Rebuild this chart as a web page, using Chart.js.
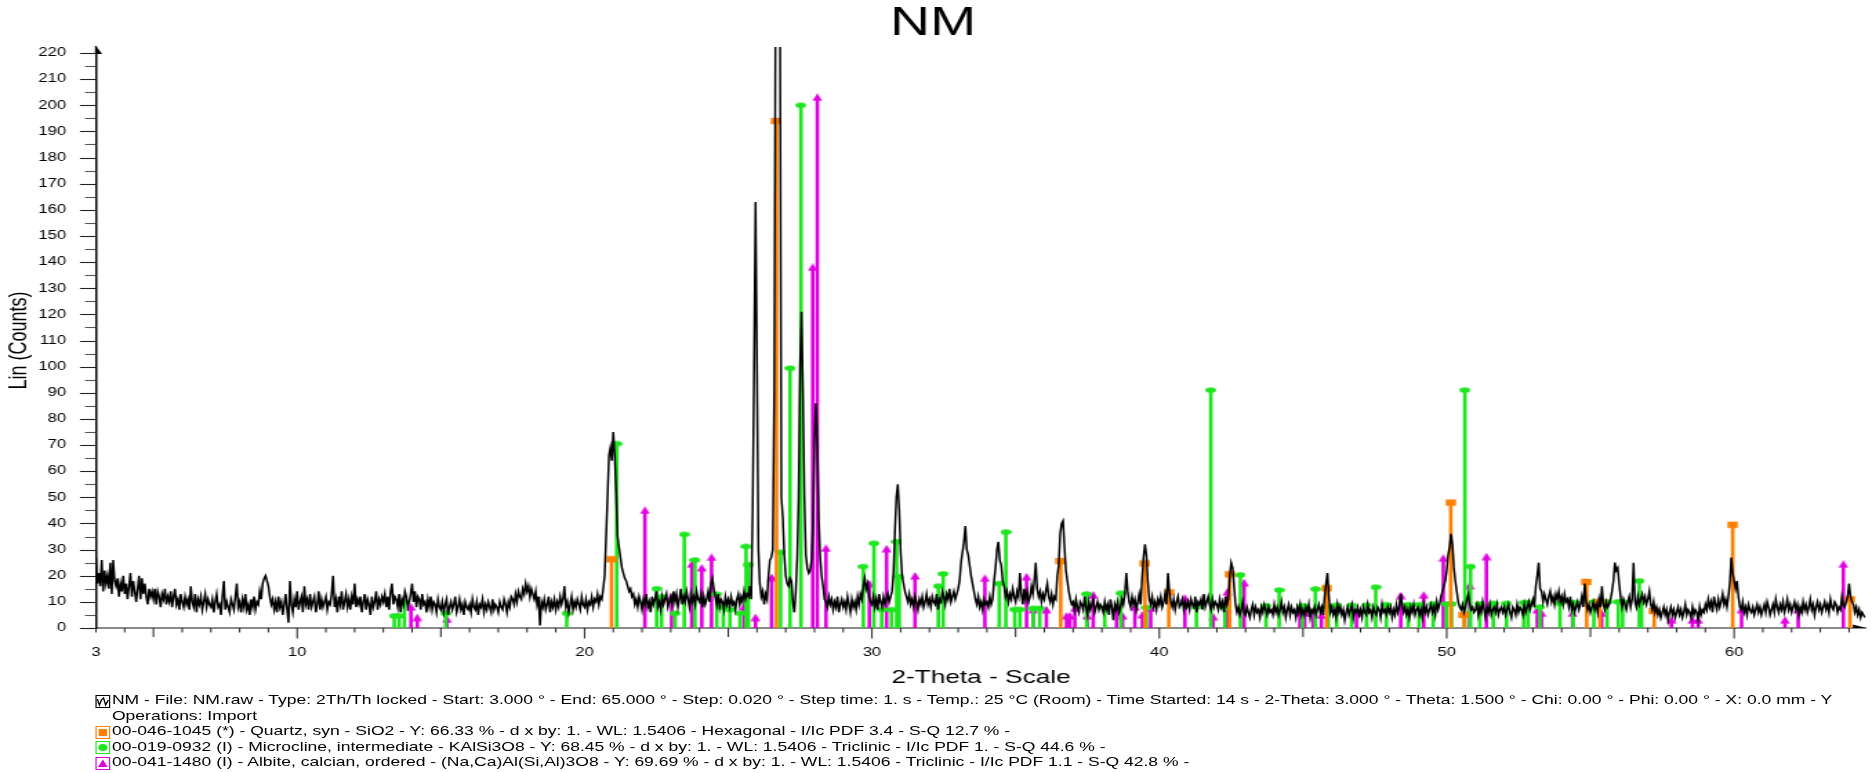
<!DOCTYPE html>
<html>
<head>
<meta charset="utf-8">
<script src="https://cdn.jsdelivr.net/npm/chart.js@4.4.1/dist/chart.umd.min.js"></script>
<style>
  html, body { margin: 0; padding: 0; background: #fff; overflow: hidden; }
  /* the reference is stretched sideways, so the whole drawing is too */
  #wrap { position: absolute; left: 0; top: 0; width: 1356px; height: 773px;
          transform: scaleX(1.3805); transform-origin: 0 0; }
  #chart { position: absolute; left: 0; top: 0; }
  #legend { position: absolute; left: 68.8px; top: 693.3px; color: #000;
            font: 12.7px "Liberation Sans", Arial, sans-serif; }
  .row { height: 15.5px; line-height: 15.5px; white-space: nowrap; display: flex; align-items: center; }
  .ico { width: 11px; height: 13px; flex: none; margin-right: 1.3px; }
  .pad { margin-left: 12.3px; }
</style>
</head>
<body>
<div id="wrap">
  <canvas id="chart" width="1356" height="773"></canvas>
  <div id="legend">
    <div class="row"><svg class="ico" viewBox="0 0 11 13"><rect x="0.5" y="0.5" width="10" height="12" fill="none" stroke="#000"/><polyline points="1.5,4 3,10 4.5,5 6,3 7.5,10 9.5,5" fill="none" stroke="#000" stroke-width="1"/></svg><span>NM - File: NM.raw - Type: 2Th/Th locked - Start: 3.000 ° - End: 65.000 ° - Step: 0.020 ° - Step time: 1. s - Temp.: 25 °C (Room) - Time Started: 14 s - 2-Theta: 3.000 ° - Theta: 1.500 ° - Chi: 0.00 ° - Phi: 0.00 ° - X: 0.0 mm - Y</span></div>
    <div class="row"><span class="pad">Operations: Import</span></div>
    <div class="row"><svg class="ico" viewBox="0 0 11 13"><rect x="0.5" y="0.5" width="10" height="12" fill="none" stroke="#ff8000"/><rect x="2.5" y="3" width="6" height="7" fill="#ff8000"/></svg><span>00-046-1045 (*) - Quartz, syn - SiO2 - Y: 66.33 % - d x by: 1. - WL: 1.5406 - Hexagonal - I/Ic PDF 3.4 - S-Q 12.7 % -</span></div>
    <div class="row"><svg class="ico" viewBox="0 0 11 13"><rect x="0.5" y="0.5" width="10" height="12" fill="none" stroke="#1ee61e"/><ellipse cx="5.5" cy="6.5" rx="3.3" ry="3.5" fill="#1ee61e"/></svg><span>00-019-0932 (I) - Microcline, intermediate - KAlSi3O8 - Y: 68.45 % - d x by: 1. - WL: 1.5406 - Triclinic - I/Ic PDF 1. - S-Q 44.6 % -</span></div>
    <div class="row"><svg class="ico" viewBox="0 0 11 13"><rect x="0.5" y="0.5" width="10" height="12" fill="none" stroke="#e100e1"/><polygon points="5.5,2.5 9,10 2,10" fill="#e100e1"/></svg><span>00-041-1480 (I) - Albite, calcian, ordered - (Na,Ca)Al(Si,Al)3O8 - Y: 69.69 % - d x by: 1. - WL: 1.5406 - Triclinic - I/Ic PDF 1.1 - S-Q 42.8 % -</span></div>
  </div>
</div>
<script>
// ---------------- Daten ----------------
// Messung: 2-Theta ab 3°, Schrittweite 0.05°, Werte abgelesen (je Zeile ein Grad)
const scanStart = 3;
const scanStep = 0.05;
const counts = [
  27,17,21,16,26,14,22,17,20,15,25,13,26,18,16,19,12,17,14,20,
  13,17,11,16,21,12,18,14,10,15,20,11,19,13,17,12,9,15,12,14,
  11,15,9,14,12,8,13,11,15,9,12,10,14,8,12,15,9,11,7,13,
  10,8,12,9,11,7,16,10,8,13,6,11,9,12,7,10,13,8,11,9,
  8,11,6,10,13,8,9,5,12,18,7,10,8,6,11,9,7,12,17,8,
  10,6,11,8,13,7,9,5,11,8,12,7,10,9,14,11,17,19,20,18,
  16,12,9,11,7,10,6,12,8,10,5,9,13,7,2,18,9,6,11,8,
  14,7,10,12,6,16,9,11,7,13,8,10,12,6,9,14,7,11,8,10,
  12,7,10,9,13,20,8,11,6,12,9,14,7,10,13,8,11,7,12,9,
  17,8,11,9,12,6,10,13,7,11,9,5,12,8,10,14,7,11,9,12,
  10,13,8,12,7,14,17,9,12,11,8,13,6,11,9,14,12,8,10,13,
  17,10,14,8,12,11,7,13,9,10,6,11,8,12,7,10,9,6,11,8,
  7,10,6,9,11,5,8,10,7,9,12,6,8,11,7,9,5,10,8,7,
  9,6,11,8,7,10,5,9,8,11,6,9,7,10,8,6,11,7,9,8,
  6,10,8,7,11,9,6,10,8,12,11,9,13,10,14,12,11,15,13,17,
  14,16,12,15,13,11,14,9,12,1,10,8,11,7,9,12,6,10,8,11,
  7,10,8,12,9,11,16,8,10,6,9,12,7,10,8,11,9,7,12,9,
  8,11,7,10,9,12,8,11,10,13,9,12,11,15,20,35,50,66,69,64,
  75,66,52,35,31,27,23,21,19,18,16,14,15,12,13,9,11,8,12,10,
  7,11,9,13,8,10,6,12,9,11,14,8,10,7,12,9,11,13,8,10,
  12,9,14,10,13,8,11,15,9,12,10,14,11,8,13,10,12,9,14,11,
  10,13,8,12,9,11,14,10,17,19,15,12,9,13,8,11,10,7,12,9,
  11,8,12,9,10,7,11,13,9,12,10,14,11,13,12,16,11,45,100,163,
  100,30,17,12,14,9,13,11,20,26,27,30,90,250,420,360,240,50,42,28,
  20,17,16,19,18,10,6,14,27,50,100,121,90,50,28,23,21,22,26,40,
  71,86,71,42,27,20,16,11,10,8,12,9,11,7,10,8,12,6,9,11,
  8,10,7,12,9,6,11,8,10,7,12,9,13,11,16,19,15,17,12,10,
  9,12,8,11,7,13,10,8,12,9,11,13,10,12,14,21,37,50,55,45,
  29,20,17,14,12,10,13,9,11,8,12,10,7,11,9,12,8,10,13,9,
  11,8,12,10,9,13,7,11,10,14,12,9,13,11,15,10,12,14,11,13,
  15,18,25,29,33,39,30,28,24,20,17,14,11,9,12,8,10,7,11,9,
  10,8,12,9,11,18,23,30,33,26,24,18,16,12,14,10,13,11,15,12,
  10,14,12,21,13,9,15,11,14,10,12,16,13,18,25,15,12,14,10,13,
  11,14,17,12,10,13,9,12,11,20,24,36,40,41,31,22,18,14,11,9,
  10,7,11,8,6,10,9,7,12,8,5,10,7,9,11,6,8,10,7,9,
  8,6,10,7,9,5,11,8,3,9,7,10,6,8,11,9,13,21,14,10,
  8,12,9,11,7,10,13,9,19,27,32,28,18,11,9,12,8,10,7,11,
  9,12,8,10,13,9,21,14,10,8,11,7,10,12,8,9,11,7,10,8,
  10,7,11,9,8,12,6,10,9,11,7,13,8,10,12,9,7,11,8,10,
  9,7,11,8,10,6,12,9,11,20,25,23,16,9,6,8,5,7,10,6,
  5,8,6,4,7,9,5,8,6,7,4,8,6,9,7,5,8,6,7,5,
  9,6,8,5,7,10,6,8,4,7,9,5,8,6,7,4,8,6,9,5,
  7,5,8,6,9,4,7,6,8,5,7,9,6,8,5,12,17,21,12,6,
  8,5,7,4,9,6,8,5,7,3,6,8,5,7,9,4,7,6,8,5,
  7,4,8,6,5,9,6,7,4,8,6,5,8,7,4,9,6,7,5,8,
  6,8,4,7,5,9,6,8,13,9,6,8,5,7,4,8,6,9,5,7,
  8,5,7,4,9,6,8,5,7,9,6,8,5,10,7,9,12,14,16,18,
  22,28,31,36,32,23,18,14,10,8,7,9,6,8,11,13,9,7,8,6,
  7,9,5,8,6,10,7,4,8,6,9,5,7,8,6,9,5,7,8,6,
  8,5,7,9,6,4,8,7,5,9,6,8,7,5,9,6,8,10,7,9,
  11,8,16,20,25,15,14,10,13,11,9,12,14,10,12,9,13,11,14,10,
  12,9,13,10,11,8,12,7,9,6,8,10,7,9,12,8,17,10,7,9,
  6,8,10,7,9,6,11,8,16,9,7,10,8,9,11,14,18,25,22,23,
  17,12,8,11,9,7,10,12,8,11,25,10,8,12,9,11,13,10,12,9,
  11,14,9,7,10,6,8,5,7,4,6,8,5,7,3,6,8,5,7,4,
  6,8,5,7,4,6,9,5,7,6,4,8,5,7,6,3,8,5,7,6,
  9,7,11,8,10,6,12,9,7,11,8,10,13,9,11,8,12,17,27,21,
  18,15,18,12,8,7,10,6,8,5,9,7,6,8,5,7,9,6,8,5,
  7,9,6,10,8,5,7,9,6,11,8,6,9,7,10,6,8,11,7,9,
  6,8,10,7,9,5,8,6,10,7,9,6,8,11,7,9,5,8,10,7,
  9,6,8,10,7,9,6,11,8,7,10,9,6,8,7,12,9,8,10,12,
  17,12,10,9,6,8,5,7,4,6,5,4
];

// Referenzlinien (Lage 2-Theta, Höhe in Counts)
const quartzPos = [20.94, 26.68, 36.57, 39.50, 40.33, 42.45, 45.82, 50.14, 50.60, 54.87, 55.33, 57.22, 59.95, 64.03];
const quartzInt = [26.3, 194, 25.6, 24.7, 13.6, 20.5, 15.2, 48, 5, 17.6, 10, 6.5, 39.5, 11];

const microPos = [13.38, 13.55, 13.73, 15.17, 19.38, 21.12, 22.51, 22.68, 23.15, 23.47, 23.84, 24.60, 24.83,
  25.06, 25.41, 25.62, 25.70, 26.82, 27.15, 27.53, 29.70, 30.07, 30.34, 30.68, 30.86, 30.95, 32.31, 32.48,
  34.43, 34.66, 34.97, 35.15, 35.61, 35.84, 37.47, 38.10, 38.66, 39.55, 41.29, 41.79, 42.28, 42.82, 43.71,
  44.17, 44.98, 45.43, 45.88, 46.17, 46.69, 47.21, 47.53, 47.90, 48.66, 49.04, 49.53, 49.99, 50.17, 50.63,
  50.83, 51.15, 51.62, 52.08, 52.68, 52.83, 53.24, 53.94, 54.40, 55.12, 55.58, 55.97, 56.12, 56.70, 56.78];
const microInt = [4.6, 4.6, 10, 5.6, 5.6, 70.5, 15, 12, 5.6, 35.8, 26, 12.9, 8,
  7, 5.6, 31.2, 24.2, 29, 99.4, 200, 23.5, 32.4, 7, 7, 33, 19.6, 16, 20.7,
  17, 36.7, 7.1, 7.1, 7.5, 7.5, 13, 7.8, 13.3, 7.8, 8, 91, 8, 20.3, 8.5,
  14.5, 8.5, 14.9, 8, 8.7, 8.7, 8.7, 15.6, 8.9, 8.9, 8.9, 9.2, 9.2, 9.2, 91,
  23.5, 9.2, 9.4, 9.4, 9.7, 9.7, 8, 9.4, 9.8, 10, 10, 10, 10, 18, 10];

const albitePos = [13.96, 14.18, 15.21, 22.10, 23.03, 23.73, 24.08, 24.42, 25.55, 25.95, 26.51, 27.94, 28.10,
  28.40, 29.91, 30.51, 31.50, 33.93, 35.38, 35.61, 36.07, 36.77, 36.89, 37.06, 37.49, 37.70, 38.51, 38.72,
  39.15, 39.41, 39.70, 40.89, 41.87, 42.37, 42.95, 44.89, 45.06, 45.35, 45.64, 46.86, 48.40, 49.20, 49.88,
  50.80, 51.38, 53.15, 53.30, 54.38, 55.39, 57.82, 58.55, 58.75, 60.26, 61.77, 62.23, 63.80];
const albiteInt = [8, 4, 3.3, 45, 12, 24.4, 23, 27, 8, 4, 19.3, 138, 203,
  30.5, 16.9, 30.3, 19.9, 19, 19.6, 7, 7, 4.6, 4.6, 7.5, 4.6, 12.6, 7.5, 4.6,
  8, 5, 7.5, 11.4, 4.3, 13.8, 17.3, 5.6, 5.6, 5.6, 4.8, 5.6, 12.4, 12.6, 26.7,
  16.2, 27.3, 7, 5.6, 5.6, 5.6, 3, 3, 3, 7, 3, 7, 24.4];

// Achsen
const xTickValues = [3, 10, 20, 30, 40, 50, 60];
const yTickValues = [0, 10, 20, 30, 40, 50, 60, 70, 80, 90, 100, 110, 120, 130, 140, 150, 160, 170, 180, 190, 200, 210, 220];

// ---------------- Hilfsfunktionen ----------------
const FONT = '"Liberation Sans", Arial, sans-serif';
Chart.defaults.font.family = FONT;
Chart.defaults.color = '#000';

const scanPoints = counts.map((c, i) => ({ x: Math.round((scanStart + i * scanStep) * 100) / 100, y: c }));

function stickPoints(pos, hts) {
  const pts = [];
  pos.forEach((p, i) => pts.push({ x: p, y: 0 }, { x: p, y: hts[i] }, { x: p, y: null }));
  return pts;
}

// kleine Marker-Bildchen (Quadrat, Ellipse, Dreieck)
function marker(kind, color) {
  const c = document.createElement('canvas');
  c.width = 8; c.height = 8;
  const g = c.getContext('2d');
  g.fillStyle = color;
  g.beginPath();
  if (kind === 'rect') g.rect(0.3, 0.8, 7.4, 6.4);
  else if (kind === 'ellipse') g.ellipse(4, 4, 3.9, 2.8, 0, 0, Math.PI * 2);
  else { g.moveTo(4, 0); g.lineTo(7.6, 7.6); g.lineTo(0.4, 7.6); g.closePath(); }
  g.fill();
  return c;
}

function stickSet(label, pos, hts, color, kind) {
  return {
    label, data: stickPoints(pos, hts),
    borderColor: color, borderWidth: 2.6, showLine: true, spanGaps: false, tension: 0,
    pointStyle: marker(kind, color),
    pointRadius: ctx => (ctx.raw && ctx.raw.y > 0 ? 3 : 0),
    pointHoverRadius: 0, clip: false
  };
}

// ---------------- Achsen-Deko (Striche, Pfeile) ----------------
const axisDecor = {
  id: 'axisDecor',
  afterDraw(chart) {
    const { ctx, chartArea: a, scales: { x, y } } = chart;
    ctx.save();
    ctx.lineWidth = 1.1;
    for (let v = 0; v <= 220; v += 5) {
      const py = Math.round(y.getPixelForValue(v)) + 0.5;
      ctx.strokeStyle = v % 10 === 0 ? '#222' : '#555';
      ctx.beginPath();
      ctx.moveTo(a.left - (v % 10 === 0 ? 11.6 : 8), py);
      ctx.lineTo(a.left, py);
      ctx.stroke();
    }
    ctx.strokeStyle = '#222';
    ctx.lineWidth = 1;
    for (let t = 3; t <= 64; t++) {
      const px = x.getPixelForValue(t);
      const len = t % 10 === 0 ? 10.5 : (t % 5 === 0 ? 9 : 4.5);
      ctx.beginPath();
      ctx.moveTo(px, a.bottom);
      ctx.lineTo(px, a.bottom + len);
      ctx.stroke();
    }
    // Pfeil y oben
    ctx.fillStyle = '#000';
    ctx.beginPath();
    ctx.moveTo(a.left, a.top - 7);
    ctx.lineTo(a.left + 4.5, a.top + 1);
    ctx.lineTo(a.left, a.top + 1);
    ctx.closePath();
    ctx.fill();
    ctx.fillRect(a.left - 0.7, a.top - 7, 1.4, 8);
    // Pfeil x rechts
    ctx.beginPath();
    ctx.moveTo(a.right, a.bottom);
    ctx.lineTo(a.right - 9.5, a.bottom - 3.5);
    ctx.lineTo(a.right - 9.5, a.bottom);
    ctx.closePath();
    ctx.fill();
    ctx.restore();
  }
};

// ---------------- Diagramm ----------------
new Chart(document.getElementById('chart'), {
  type: 'line',
  data: {
    datasets: [
      { label: 'NM', data: scanPoints, borderColor: '#000', borderWidth: 1.5, pointRadius: 0, tension: 0,
        clip: { left: 0, top: 6, right: 0, bottom: 0 } },
      stickSet('Quartz', quartzPos, quartzInt, '#ff8000', 'rect'),
      stickSet('Microcline', microPos, microInt, '#1ee61e', 'ellipse'),
      stickSet('Albite', albitePos, albiteInt, '#e100e1', 'triangle')
    ]
  },
  options: {
    responsive: false,
    animation: false,
    events: [],
    layout: { padding: { left: 0, right: 4.3, top: 0, bottom: 83 } },
    plugins: {
      legend: { display: false },
      tooltip: { enabled: false },
      title: { display: true, text: 'NM', color: '#000',
               font: { size: 40, weight: 'normal', lineHeight: 1 }, padding: { top: 4, bottom: 9 } }
    },
    scales: {
      x: {
        type: 'linear', min: 3, max: 64.59,
        afterBuildTicks: s => { s.ticks = xTickValues.map(v => ({ value: v })); },
        afterFit: s => { s.height = 62; },
        grid: { display: false, drawTicks: false },
        border: { display: true, color: '#8a8a8a', width: 2 },
        ticks: { padding: 17, autoSkip: false, maxRotation: 0, font: { size: 12 }, color: '#000', callback: v => String(v) },
        title: { display: true, text: '2-Theta - Scale', color: '#000',
                 font: { size: 19, lineHeight: 1 }, padding: { top: 0, bottom: 2.5 } }
      },
      y: {
        type: 'linear', min: 0, max: 220,
        afterBuildTicks: s => { s.ticks = yTickValues.map(v => ({ value: v })); },
        afterFit: s => { s.width = 69.5; },
        grid: { display: false, drawTicks: false },
        border: { display: true, color: '#000', width: 1.5 },
        ticks: { padding: 21.7, font: { size: 12 }, color: '#000', callback: v => String(v) },
        title: { display: true, text: 'Lin (Counts)', color: '#000',
                 font: { size: 18, lineHeight: 1 }, padding: { top: 5.5, bottom: 0 } }
      }
    }
  },
  plugins: [axisDecor]
});
</script>
</body>
</html>
